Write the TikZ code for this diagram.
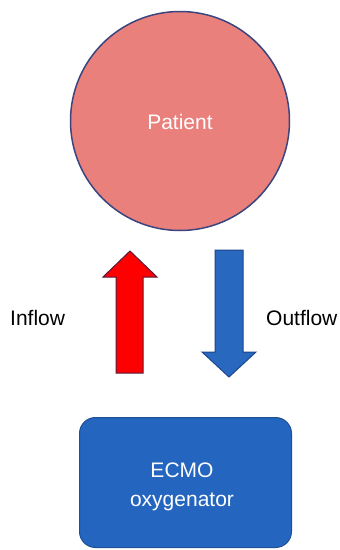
\documentclass[tikz,border=0pt]{standalone}
\usepackage{fontspec}
\setmainfont{Liberation Sans}
\definecolor{patfill}{RGB}{234,128,124}
\definecolor{patdraw}{RGB}{58,70,125}
\definecolor{inred}{RGB}{255,0,0}
\definecolor{inreddraw}{RGB}{90,25,60}
\definecolor{outblue}{RGB}{40,104,190}
\definecolor{outbluedraw}{RGB}{30,70,140}
\definecolor{boxfill}{RGB}{36,101,191}
\definecolor{boxdraw}{RGB}{30,80,150}
\begin{document}
\begin{tikzpicture}[x=1pt,y=-1pt,
  lbl/.style={font=\fontsize{21}{29}\selectfont, text=black, inner sep=0pt},
  wlbl/.style={font=\fontsize{21}{29}\selectfont, text=white, align=center},
  patient/.style={circle, fill=patfill, draw=patdraw, line width=1.5pt, minimum size=219pt, inner sep=0pt},
  ecmo/.style={rectangle, rounded corners=16pt, fill=boxfill, draw=boxdraw, line width=1pt, minimum width=212pt, minimum height=130pt},
  inarrow/.style={fill=inred, draw=inreddraw, line width=1pt, line join=miter},
  outarrow/.style={fill=outblue, draw=outbluedraw, line width=1pt, line join=miter}]
\useasboundingbox (0,0) rectangle (340,550);
\fill[white] (0,0) rectangle (340,550);
\node[patient] (pat) at (180,121) {};
\node[wlbl] (pattxt) at (180,122) {Patient};
\node[ecmo] (box) at (185.5,482.5) {};
\node[wlbl] (boxtxt) at (182,487) {ECMO\\oxygenator};
\draw[inarrow] (130,251) -- (157,277) -- (143,277) -- (143,373) -- (116,373) -- (116,277) -- (103,277) -- cycle;
\draw[outarrow] (229,377) -- (256,352) -- (243,352) -- (243,250) -- (215,250) -- (215,352) -- (202,352) -- cycle;
\node[lbl, anchor=base west] (inflow) at (10,325) {Inflow};
\node[lbl, anchor=base west] (outflow) at (266,325) {Outflow};
\end{tikzpicture}
\end{document}
